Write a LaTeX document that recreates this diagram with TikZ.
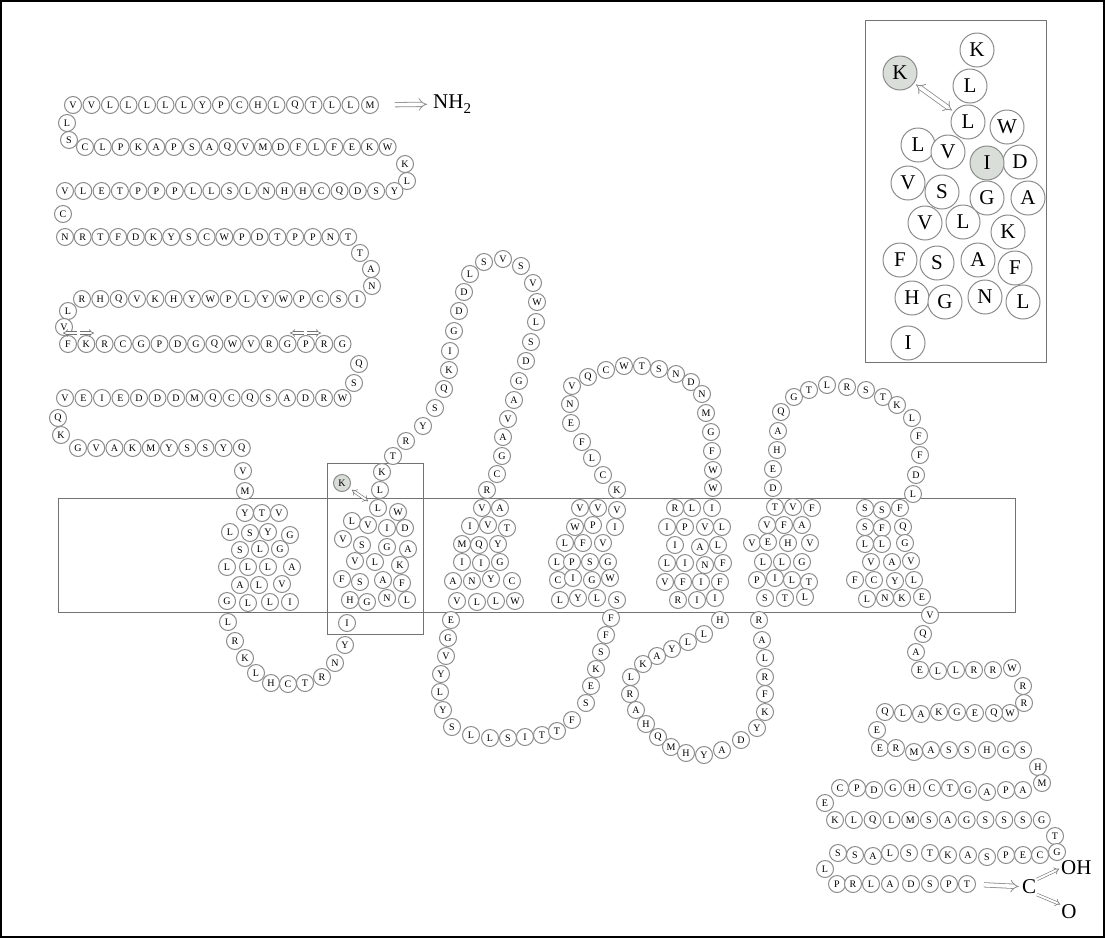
\documentclass[tikz,border=0pt]{standalone}
\usepackage{fontspec}
\setmainfont{Liberation Serif}
\usetikzlibrary{arrows.meta,calc}
\newcounter{resn}
\newcommand{\Res}[3]{\stepcounter{resn}\node[res] (r\theresn) at (#1,#2) {#3};}
\newcommand{\IRes}[3]{\stepcounter{resn}\node[ires] (r\theresn) at (#1,#2) {#3};}
\newcommand{\ResRow}[4]{\foreach \l [count=\i from 0] in {#4} {\pgfmathsetmacro{\xx}{#1+\i*(#3)}\Res{\xx}{#2}{\l}}}
\newcommand{\ResList}[1]{\foreach \x/\y/\l in {#1} {\Res{\x}{\y}{\l}}}
\newcommand{\IResList}[1]{\foreach \x/\y/\l in {#1} {\IRes{\x}{\y}{\l}}}
\begin{document}
\begin{tikzpicture}[x=1pt,y=-1pt,
 res/.style={circle,draw=black!45,line width=1pt,fill=white,minimum size=17pt,inner sep=0pt,font=\fontsize{10}{10}\selectfont},
 ires/.style={circle,draw=black!45,line width=1pt,fill=white,minimum size=34pt,inner sep=0pt,font=\fontsize{21}{21}\selectfont},
 shaded/.style={fill=green!15!black!15},
 box/.style={draw=black!55,line width=0.8pt},
 dblarrow/.style={draw=black!45,double=white,double distance=3.6pt,line width=0.8pt,-{Implies[scale=1.4]}},
 tinyarrow/.style={draw=black!55,double=white,double distance=2pt,line width=0.6pt,-{Implies}},
 lab/.style={inner sep=0pt,font=\fontsize{21}{21}\selectfont}]
\useasboundingbox (0,0) rectangle (1105,938);
\draw[line width=1.6pt] (1,1) rectangle (1104,937);
% membrane and boxes
\draw[box] (58,498) rectangle (1015,612);
\draw[box] (327,463) rectangle (423,634);
\draw[box] (865,20) rectangle (1046,362);
% ---------- N-terminal rows ----------
\ResRow{73}{105}{18.5}{V,V,L,L,L,L,L,Y,P,C,H,L,Q,T,L,L}
\node[res] (mfirst) at (370,105) {M};
\ResList{67/123/L,69/140/S}
\ResRow{85}{147}{17.8}{C,L,P,K,A,P,S,A,Q,V,M,D,F,L,F,E,K,W}
\ResList{405/164/K,407/181/L}
\ResRow{65}{191}{18.3}{V,L,E,T,P,P,P,L,L,S,L,N,H,H,C,Q,D,S,Y}
\ResList{63/214/C}
\ResRow{65}{237}{17.7}{N,R,T,F,D,K,Y,S,C,W,P,D,T,P,P,N,T}
\ResList{360/253/T,371/269/A,372/286/N}
\ResRow{82}{299}{18.33}{R,H,Q,V,K,H,Y,W,P,L,Y,W,P,C,S,I}
\ResList{68/311/L,64/327/V}
\ResRow{68}{344}{18.3}{F,K,R,C,G,P,D,G,Q,W,V,R,G,P,R,G}
\ResList{359/364/Q,354/383/S}
\ResRow{65}{398}{18.5}{V,E,I,E,D,D,D,M,Q,C,Q,S,A,D,R,W}
\ResList{58/418/Q,61/435/K}
\ResRow{78}{448}{18.2}{G,V,A,K,M,Y,S,S,Y,Q}
\ResList{243/471/V,245/491/M}
% TM1
\ResList{245/513/Y,262/513/T,279/513/V,230/532/L,250/533/S,268/532/Y,290/535/G,240/550/S,260/549/L,280/549/G,227/567/L,248/567/L,268/567/L,292/567/A,240/585/A,259/585/L,282/584/V,227/601/G,248/603/L,270/602/L,290/602/I}
% ICL1
\ResList{228/622/L,235/641/R,245/658/K,256/673/L,271/683/H,288/684/C,305/683/T,322/677/R,335/663/N,345/645/Y,347/623/I}
% TM2
\node[res,shaded] (tmK) at (342,483) {K};
\ResList{382/472/K,380/490/L}
\node[res] (tmL) at (378,508) {L};
\ResList{398/512/W,352/521/L,368/525/V,387/528/I,405/528/D,343/539/V,362/545/S,387/547/G,408/549/A,355/561/V,375/562/L,400/565/K,342/579/F,360/582/S,383/580/A,402/583/F,350/600/H,367/602/G,387/598/N,407/600/L}
% ECL1
\ResList{393/456/T,406/441/R,423/426/Y,435/408/S,444/389/Q,449/370/K,450/351/I,454/331/G,459/311/D,464/292/D,470/274/L,484/262/S,503/259/V,521/266/S,533/283/V,537/302/W,536/322/L,531/342/S,526/361/D,519/381/G,514/400/A,508/419/V,503/437/A,502/456/G,497/474/C,487/490/R}
% TM3
\ResList{482/508/V,500/508/A,470/526/I,488/525/V,507/528/T,462/544/M,479/545/Q,498/544/Y,462/562/I,481/563/I,500/562/G,453/581/A,472/581/N,491/579/Y,512/581/C,457/601/V,477/602/L,496/601/L,515/601/W}
% ICL2
\ResList{451/620/E,448/638/G,446/656/V,441/674/Y,440/692/L,443/710/Y,452/727/S,471/735/L,490/738/L,508/738/S,525/737/I,542/735/T,557/731/T,572/720/F,586/703/S,591/686/E,596/669/K,601/652/S,606/635/F,611/618/F}
% TM4
\ResList{580/508/V,598/508/V,617/510/V,575/527/W,593/525/P,615/527/I,565/543/L,583/543/F,603/543/V,557/562/L,572/562/P,590/562/S,608/562/G,558/580/C,573/578/I,592/580/G,610/578/W,560/600/L,578/598/Y,597/598/L,617/600/S}
% ECL2
\ResList{617/490/K,603/475/C,592/458/L,582/442/F,571/423/E,570/404/N,572/386/V,588/377/Q,606/370/C,624/366/W,642/366/T,659/369/S,676/374/N,691/382/D,702/394/N,706/413/M,711/432/G,712/451/F,713/470/W,713/488/W}
% TM5
\ResList{675/508/R,692/508/L,712/508/I,667/527/I,685/527/P,705/527/V,722/527/L,675/545/I,700/547/A,718/545/L,667/563/L,685/563/I,705/565/N,723/563/F,665/582/V,683/582/F,701/582/I,720/582/F,678/600/R,697/600/I,715/598/I}
% ICL3
\ResList{720/620/H,704/634/L,688/642/L,672/649/Y,657/656/A,643/664/K,631/677/L,630/694/R,636/710/A,646/724/H,658/737/Q,671/747/M,686/753/H,704/755/Y,722/750/A,741/740/D,757/728/Y,765/712/K,765/694/F,765/677/R,765/658/L,762/640/A,759/620/R}
% TM6
\ResList{775/507/T,793/507/V,812/508/F,767/525/V,784/525/F,802/525/A,752/543/V,768/542/E,788/543/H,810/543/V,763/562/L,782/562/L,802/562/G,757/580/P,775/578/I,792/580/L,809/582/T,765/598/S,785/598/T,805/597/L}
% ECL3
\ResList{773/488/D,773/469/E,777/450/H,778/431/A,781/412/Q,794/397/G,809/390/T,827/385/L,847/387/R,866/390/S,883/397/T,897/405/K,912/418/L,919/436/F,920/455/F,916/475/D,913/494/L}
% TM7
\ResList{865/508/S,882/510/S,900/508/F,865/527/S,882/528/F,903/527/Q,865/544/L,882/544/L,905/543/G,871/562/V,892/562/A,911/561/V,855/580/F,874/580/C,895/581/Y,914/580/L,867/599/L,885/598/N,902/598/K,922/597/E}
% C-terminal
\ResList{930/615/V,923/634/Q,916/652/A,920/670/E,938/671/L,956/670/L,974/670/R,993/670/R,1012/668/W,1023/686/R,1024/703/R}
\ResList{1010/713/W,994/713/Q,975/713/E,957/712/G,939/712/K,921/714/A,903/713/L,885/712/Q,877/730/E}
\ResList{880/748/E,896/748/R,914/752/M,931/750/A,949/750/S,967/750/S,987/750/H,1006/750/G,1023/750/S,1038/767/H,1042/783/M}
\ResList{1023/790/A,1006/790/P,987/792/A,968/790/G,950/788/T,932/788/C,912/788/H,893/788/G,874/790/D,857/788/P,840/788/C,825/803/E}
\ResRow{835}{820}{18.8}{K,L,Q,L,M,S,A,G,S,S,S,G}
\ResList{1055/836/T,1057/852/G}
\ResList{1040/855/C,1023/855/E,1006/855/P,987/857/S,968/855/A,948/855/K,930/853/T,909/853/S,890/853/L,873/856/A,855/855/S,838/853/S,825/869/L}
\ResList{837/884/P,853/884/R,871/884/L,890/884/A,911/884/D,930/884/S,949/884/P}
\node[res] (tlast) at (967,884) {T};
% terminal labels and arrows
\node[lab,anchor=west] (nh2) at (433,104) {NH\raisebox{-0.45ex}{\fontsize{15}{15}\selectfont 2}};
\draw[dblarrow,shorten <=16pt,shorten >=6pt] (mfirst) -- (nh2);
\node[lab] (cc) at (1029,887) {C};
\node[lab,anchor=west] (oh) at (1061,868) {OH};
\node[lab] (oo) at (1069,912) {O};
\draw[dblarrow,shorten <=8pt,shorten >=3pt] (tlast) -- (cc);
\draw[tinyarrow,shorten <=1pt,shorten >=2pt] (cc.north east) -- (oh.west);
\draw[tinyarrow,shorten <=1pt,shorten >=1pt] (cc.south east) -- (oo.north west);
% small arrows above row 6
\coordinate (a1) at (77,333); \coordinate (a1l) at (63,333);
\coordinate (a2) at (80,333); \coordinate (a2r) at (94,333);
\coordinate (b1) at (304,333); \coordinate (b1l) at (290,333);
\coordinate (b2) at (307,333); \coordinate (b2r) at (321,333);
\draw[tinyarrow] (a1) -- (a1l);
\draw[tinyarrow] (a2) -- (a2r);
\draw[tinyarrow] (b1) -- (b1l);
\draw[tinyarrow] (b2) -- (b2r);
\draw[tinyarrow,{Implies}-{Implies},shorten <=3pt,shorten >=3pt] (tmK) -- (tmL);
% ---------- inset ----------
\IResList{977/50/K,970/86/L,1007/127/W,918/145/L,948/152/V,1020/162/D,908/183/V,942/192/S,987/198/G,1028/198/A,925/223/V,963/222/L,1008/232/K,900/260/F,937/263/S,978/260/A,1015/268/F,912/298/H,945/302/G,985/297/N,1023/302/L,908/343/I}
\node[ires,shaded] (iK) at (900,73) {K};
\node[ires,shaded] (iI) at (987,163) {I};
\node[ires] (iL) at (968,122) {L};
\draw[dblarrow,{Implies[scale=1.4]}-{Implies[scale=1.4]},shorten <=2pt,shorten >=2pt] (iK) -- (iL);
\end{tikzpicture}
\end{document}
